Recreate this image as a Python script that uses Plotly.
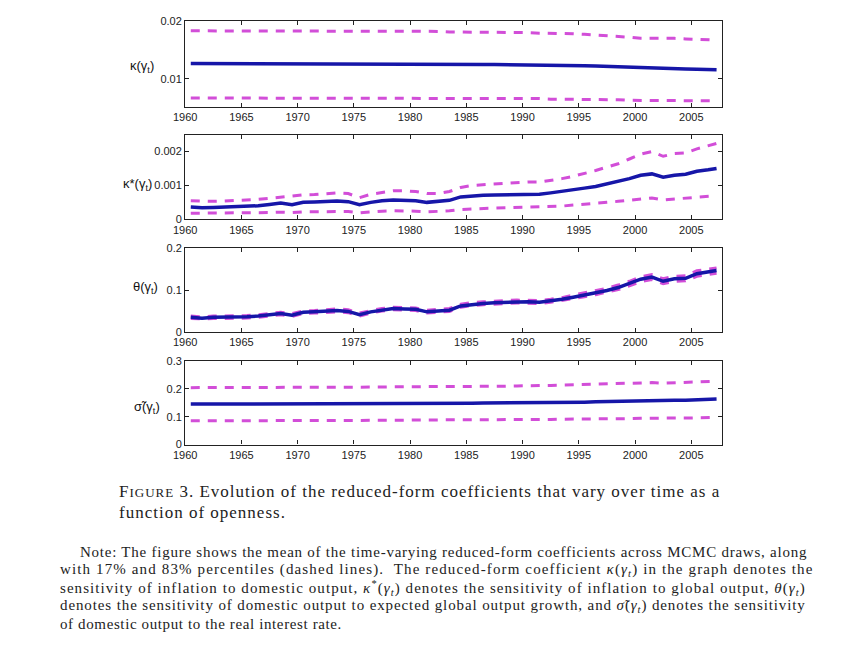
import plotly.graph_objects as go

# time grid (half-year centred annual points)
years = [1960.5, 1961.5, 1962.5, 1963.5, 1964.5, 1965.5, 1966.5, 1967.5, 1968.5, 1969.5,
         1970.5, 1971.5, 1972.5, 1973.5, 1974.5, 1975.5, 1976.5, 1977.5, 1978.5, 1979.5,
         1980.5, 1981.5, 1982.5, 1983.5, 1984.5, 1985.5, 1986.5, 1987.5, 1988.5, 1989.5,
         1990.5, 1991.5, 1992.5, 1993.5, 1994.5, 1995.5, 1996.5, 1997.5, 1998.5, 1999.5,
         2000.5, 2001.5, 2002.5, 2003.5, 2004.5, 2005.5, 2006.5, 2007.25]

# kappa(gamma_t)
kappa_upper = [0.0183, 0.0183, 0.0183, 0.0183, 0.0183, 0.0183, 0.0183, 0.0183, 0.0183, 0.0182,
               0.0183, 0.0183, 0.0182, 0.0182, 0.0182, 0.0183, 0.0182, 0.0182, 0.0182, 0.0182,
               0.0182, 0.0182, 0.0182, 0.0181, 0.0181, 0.0181, 0.0180, 0.0180, 0.0180, 0.0180,
               0.0180, 0.0179, 0.0179, 0.0178, 0.0178, 0.0177, 0.0176, 0.0175, 0.0174, 0.0172,
               0.0170, 0.0170, 0.0171, 0.0170, 0.0169, 0.0168, 0.0167, 0.0167]
kappa_mean = [0.01265, 0.01265, 0.01264, 0.01264, 0.01263, 0.01262, 0.01262, 0.01261, 0.01260, 0.01259,
              0.01259, 0.01260, 0.01259, 0.01260, 0.01262, 0.01265, 0.01260, 0.01258, 0.01258, 0.01260,
              0.01260, 0.01262, 0.01262, 0.01260, 0.01254, 0.01252, 0.01250, 0.01249, 0.01248, 0.01247,
              0.01246, 0.01246, 0.01244, 0.01240, 0.01234, 0.01228, 0.01222, 0.01215, 0.01208, 0.01200,
              0.01190, 0.01176, 0.01180, 0.01175, 0.01170, 0.01165, 0.01160, 0.01156]
kappa_lower = [0.0067, 0.0067, 0.0067, 0.0067, 0.0067, 0.0067, 0.0067, 0.0067, 0.0067, 0.0067,
               0.0067, 0.0066, 0.0067, 0.0067, 0.0067, 0.0067, 0.0067, 0.0066, 0.0066, 0.0066,
               0.0066, 0.0066, 0.0066, 0.0066, 0.0066, 0.0066, 0.0066, 0.0066, 0.0066, 0.0066,
               0.0066, 0.0066, 0.0065, 0.0065, 0.0065, 0.0065, 0.0064, 0.0064, 0.0064, 0.0063,
               0.0063, 0.0062, 0.0063, 0.0063, 0.0062, 0.0062, 0.0062, 0.0062]

# kappa*(gamma_t)
kstar_upper = [0.00055, 0.00053, 0.00053, 0.00054, 0.00055, 0.00057, 0.00059, 0.00062, 0.00066, 0.00070,
               0.00072, 0.00073, 0.00076, 0.00078, 0.00076, 0.00064, 0.00074, 0.00080, 0.00084, 0.00084,
               0.00082, 0.00076, 0.00076, 0.00082, 0.00094, 0.00100, 0.00102, 0.00105, 0.00107, 0.00109,
               0.00110, 0.00110, 0.00114, 0.00120, 0.00127, 0.00135, 0.00144, 0.00154, 0.00164, 0.00178,
               0.00192, 0.00200, 0.00186, 0.00194, 0.00196, 0.00208, 0.00216, 0.00224]
kstar_mean = [0.00036, 0.00034, 0.00035, 0.00036, 0.00036, 0.00037, 0.00040, 0.00044, 0.00048, 0.00043,
              0.00050, 0.00051, 0.00053, 0.00054, 0.00052, 0.00043, 0.00050, 0.00055, 0.00057, 0.00056,
              0.00055, 0.00050, 0.00052, 0.00056, 0.00066, 0.00069, 0.00071, 0.00072, 0.00073, 0.00074,
              0.00075, 0.00074, 0.00078, 0.00082, 0.00087, 0.00092, 0.00097, 0.00104, 0.00112, 0.00120,
              0.00130, 0.00134, 0.00124, 0.00130, 0.00133, 0.00142, 0.00146, 0.00150]
kstar_lower = [0.00018, 0.00018, 0.00018, 0.00018, 0.00018, 0.00019, 0.00019, 0.00020, 0.00021, 0.00020,
               0.00022, 0.00022, 0.00023, 0.00024, 0.00023, 0.00019, 0.00022, 0.00024, 0.00025, 0.00025,
               0.00024, 0.00022, 0.00023, 0.00025, 0.00029, 0.00031, 0.00032, 0.00033, 0.00034, 0.00035,
               0.00036, 0.00036, 0.00037, 0.00039, 0.00042, 0.00044, 0.00047, 0.00050, 0.00053, 0.00057,
               0.00061, 0.00063, 0.00057, 0.00060, 0.00062, 0.00066, 0.00068, 0.00070]

# theta(gamma_t)
theta_upper = [0.038, 0.036, 0.038, 0.038, 0.038, 0.039, 0.041, 0.044, 0.047, 0.044,
               0.050, 0.051, 0.053, 0.055, 0.053, 0.045, 0.051, 0.056, 0.059, 0.058,
               0.057, 0.052, 0.054, 0.056, 0.066, 0.070, 0.072, 0.074, 0.075, 0.076,
               0.076, 0.075, 0.078, 0.082, 0.088, 0.093, 0.098, 0.104, 0.112, 0.121,
               0.132, 0.137, 0.127, 0.133, 0.134, 0.146, 0.150, 0.153]
theta_mean = [0.035, 0.033, 0.035, 0.035, 0.035, 0.036, 0.038, 0.041, 0.044, 0.040,
              0.047, 0.048, 0.050, 0.051, 0.049, 0.041, 0.048, 0.053, 0.056, 0.055,
              0.054, 0.048, 0.050, 0.052, 0.062, 0.066, 0.068, 0.070, 0.071, 0.072,
              0.072, 0.071, 0.074, 0.078, 0.083, 0.088, 0.093, 0.099, 0.106, 0.115,
              0.126, 0.131, 0.121, 0.127, 0.128, 0.139, 0.143, 0.147]
theta_lower = [0.032, 0.031, 0.032, 0.032, 0.032, 0.033, 0.035, 0.038, 0.041, 0.037,
               0.044, 0.045, 0.047, 0.048, 0.046, 0.038, 0.045, 0.050, 0.053, 0.052,
               0.051, 0.045, 0.047, 0.049, 0.059, 0.063, 0.065, 0.067, 0.068, 0.069,
               0.069, 0.068, 0.071, 0.075, 0.079, 0.084, 0.089, 0.095, 0.101, 0.110,
               0.120, 0.125, 0.115, 0.121, 0.122, 0.133, 0.137, 0.140]

# sigma-tilde(gamma_t)
sigma_upper = [0.204, 0.204, 0.204, 0.204, 0.204, 0.205, 0.205, 0.205, 0.205, 0.205,
               0.205, 0.206, 0.206, 0.206, 0.206, 0.206, 0.206, 0.206, 0.207, 0.207,
               0.207, 0.207, 0.207, 0.208, 0.208, 0.208, 0.208, 0.209, 0.209, 0.210,
               0.210, 0.211, 0.212, 0.213, 0.214, 0.215, 0.216, 0.217, 0.218, 0.219,
               0.221, 0.222, 0.220, 0.221, 0.222, 0.224, 0.226, 0.227]
sigma_mean = [0.145, 0.145, 0.145, 0.145, 0.145, 0.145, 0.146, 0.146, 0.146, 0.146,
              0.146, 0.146, 0.146, 0.147, 0.147, 0.146, 0.147, 0.147, 0.147, 0.147,
              0.147, 0.147, 0.147, 0.148, 0.148, 0.148, 0.149, 0.149, 0.149, 0.149,
              0.150, 0.150, 0.151, 0.151, 0.152, 0.152, 0.153, 0.154, 0.155, 0.157,
              0.159, 0.160, 0.158, 0.159, 0.159, 0.161, 0.162, 0.163]
sigma_lower = [0.085, 0.085, 0.085, 0.085, 0.085, 0.085, 0.085, 0.086, 0.086, 0.086,
               0.086, 0.086, 0.086, 0.087, 0.087, 0.087, 0.087, 0.087, 0.087, 0.087,
               0.088, 0.088, 0.088, 0.088, 0.088, 0.089, 0.089, 0.089, 0.089, 0.090,
               0.090, 0.090, 0.090, 0.091, 0.091, 0.091, 0.092, 0.092, 0.092, 0.093,
               0.094, 0.095, 0.094, 0.095, 0.095, 0.096, 0.096, 0.097]

x_ticks = [1960, 1965, 1970, 1975, 1980, 1985, 1990, 1995, 2000, 2005]

panels = [
    dict(label="κ(γ<sub>t</sub>)", up=kappa_upper, mid=kappa_mean, lo=kappa_lower,
         yrange=[0.0052, 0.02], tickvals=[0.01, 0.02], ticktext=["0.01", "0.02"]),
    dict(label="κ*(γ<sub>t</sub>)", up=kstar_upper, mid=kstar_mean, lo=kstar_lower,
         yrange=[0, 0.0025], tickvals=[0, 0.001, 0.002], ticktext=["0", "0.001", "0.002"]),
    dict(label="θ(γ<sub>t</sub>)", up=theta_upper, mid=theta_mean, lo=theta_lower,
         yrange=[0, 0.2], tickvals=[0, 0.1, 0.2], ticktext=["0", "0.1", "0.2"]),
    dict(label="σ̃(γ<sub>t</sub>)", up=sigma_upper, mid=sigma_mean, lo=sigma_lower,
         yrange=[0, 0.3], tickvals=[0, 0.1, 0.2, 0.3], ticktext=["0", "0.1", "0.2", "0.3"]),
]

W, H = 850, 656
# the page shows up shifted and slightly shrunk, so map target pixels to paper
OX, OY, SC = 22, 16, 0.985


def fx(sx):
    return (sx - OX) / SC / W


def fy(sy):
    return 1 - (sy - OY) / SC / H


# target pixel boxes of the four panels (top, bottom)
boxes = [(23, 109), (137, 222), (251, 335), (364, 448)]
label_pos = [(130, 58), (123, 177), (133, 290), (134, 411)]
x_left, x_right = 187, 723

BLUE = "#1616a8"
MAGENTA = "#d24ed8"
SANS = "Arial, Liberation Sans, sans-serif"

fig = go.Figure()
annotations = []
for i, p in enumerate(panels):
    n = "" if i == 0 else str(i + 1)
    xa, ya = "x" + n, "y" + n
    for key in ["up", "lo"]:
        fig.add_trace(go.Scatter(x=years, y=p[key], mode="lines", xaxis=xa, yaxis=ya,
                                 line=dict(color=MAGENTA, width=3, dash="9px,8px"),
                                 showlegend=False, hoverinfo="skip"))
    fig.add_trace(go.Scatter(x=years, y=p["mid"], mode="lines", xaxis=xa, yaxis=ya,
                             line=dict(color=BLUE, width=3.5),
                             showlegend=False, hoverinfo="skip"))
    top, bot = boxes[i]
    axis_common = dict(showline=True, linecolor="#222", linewidth=1.2, mirror="ticks",
                       ticks="inside", ticklen=4, tickcolor="#222", showgrid=False,
                       zeroline=False, tickfont=dict(family=SANS, size=11, color="#222"))
    fig.layout["xaxis" + n] = dict(domain=[fx(x_left), fx(x_right)], range=[1960, 2007.7],
                                   tickvals=x_ticks, anchor=ya, **axis_common)
    fig.layout["yaxis" + n] = dict(domain=[fy(bot), fy(top)], range=p["yrange"],
                                   tickvals=p["tickvals"], ticktext=p["ticktext"], anchor=xa,
                                   **axis_common)
    lx, ly = label_pos[i]
    annotations.append(dict(x=fx(lx), y=fy(ly), xref="paper", yref="paper",
                            text=p["label"], showarrow=False,
                            font=dict(family=SANS, size=13, color="#111")))

serif = "Liberation Serif, Times New Roman, serif"
caption = ["F<span style='font-size:13px'>IGURE</span> 3. Evolution of the reduced-form coefficients that vary over time as a",
           "function of openness."]
for k, line in enumerate(caption):
    annotations.append(dict(x=fx(119), y=fy(495 + 21 * k), xref="paper", yref="paper",
                            xanchor="left", yanchor="middle", showarrow=False,
                            text="<span style='letter-spacing:1px'>" + line + "</span>",
                            font=dict(family=serif, size=17, color="#222")))

note = [
    "Note: The figure shows the mean of the time-varying reduced-form coefficients across MCMC draws, along",
    "with 17% and 83% percentiles (dashed lines).  The reduced-form coefficient <i>κ</i>(<i>γ<sub>t</sub></i>) in the graph denotes the",
    "sensitivity of inflation to domestic output, <i>κ</i><sup>*</sup>(<i>γ<sub>t</sub></i>) denotes the sensitivity of inflation to global output, <i>θ</i>(<i>γ<sub>t</sub></i>)",
    "denotes the sensitivity of domestic output to expected global output growth, and <i>σ̃</i>(<i>γ<sub>t</sub></i>) denotes the sensitivity",
    "of domestic output to the real interest rate.",
]
note_spacing = [0.76, 1.13, 1.06, 0.89, 0.62]
for k, line in enumerate(note):
    xl = 80 if k == 0 else 60
    annotations.append(dict(x=fx(xl), y=fy(556 + 18 * k), xref="paper", yref="paper",
                            xanchor="left", yanchor="middle", showarrow=False,
                            text="<span style='letter-spacing:%.2fpx'>%s</span>" % (note_spacing[k], line),
                            font=dict(family=serif, size=15, color="#222")))

fig.update_layout(width=W, height=H, margin=dict(l=0, r=0, t=0, b=0),
                  paper_bgcolor="white", plot_bgcolor="white", annotations=annotations)

fig.write_html("out.html")
